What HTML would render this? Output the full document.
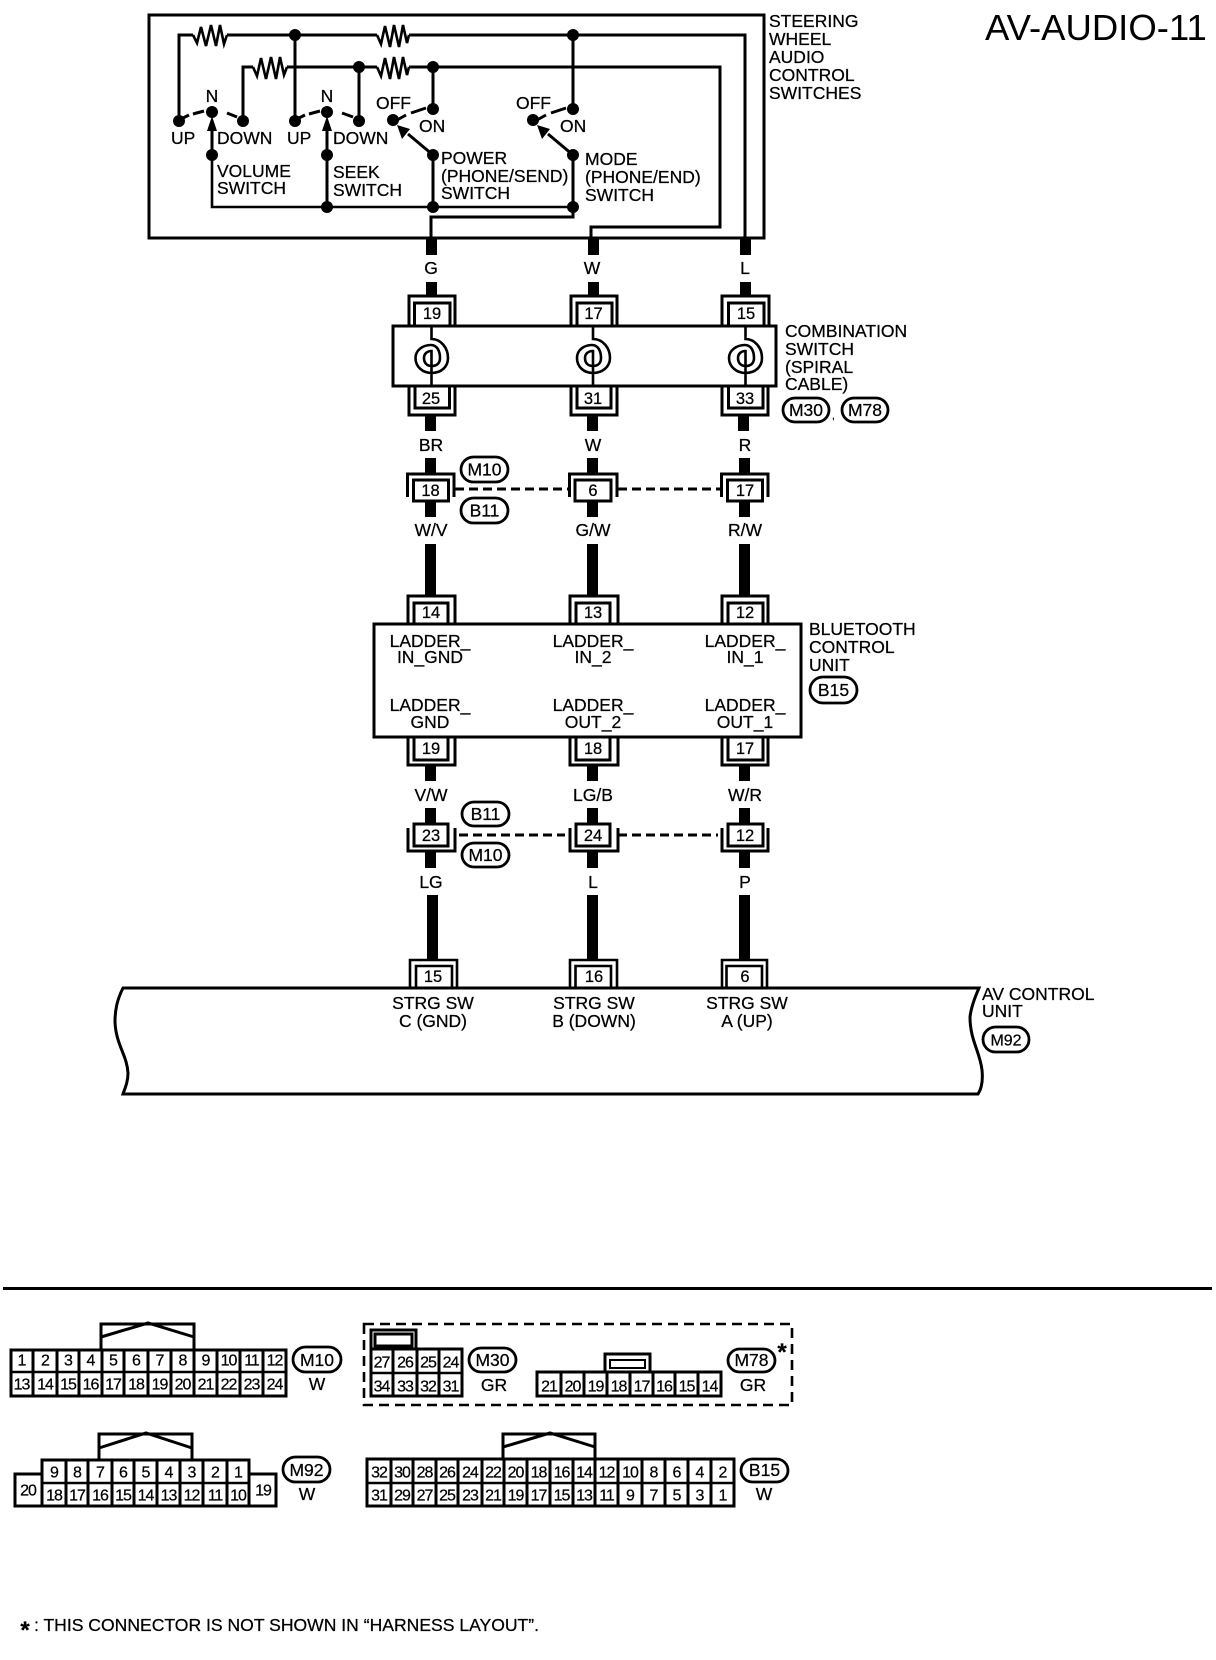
<!DOCTYPE html>
<html><head><meta charset="utf-8"><title>AV-AUDIO-11</title>
<style>
html,body{margin:0;padding:0;background:#fff}
svg{display:block}
text{font-family:"Liberation Sans",sans-serif;font-size:17.5px;fill:#000;stroke:#000;stroke-width:.25}
.m{text-anchor:middle}
.c text{font-size:16px;text-anchor:middle;letter-spacing:-1px}
.p{font-size:16.5px;text-anchor:middle}
.w{fill:none;stroke:#000;stroke-width:3}
.t{fill:none;stroke:#000;stroke-width:2}
.s{fill:none;stroke:#000;stroke-width:2.6}
.o{fill:none;stroke:#000;stroke-width:3}
.pill{fill:#fff;stroke:#000;stroke-width:2.8}
</style></head><body>
<svg xmlns="http://www.w3.org/2000/svg" width="1216" height="1660" viewBox="0 0 1216 1660">
<rect width="1216" height="1660" fill="#fff"/>

<!-- switches box -->
<rect x="149" y="15" width="615" height="223" class="w"/>
<text x="985" y="40" style="font-size:36.5px;stroke-width:0">AV-AUDIO-11</text>
<text x="769" y="27">STEERING</text><text x="769" y="45">WHEEL</text><text x="769" y="63">AUDIO</text><text x="769" y="81">CONTROL</text><text x="769" y="99">SWITCHES</text>

<path class="w" d="M179 121V35H193M227 35H377M409 35H745V238M295 35V121M573 35V109"/>
<path class="w" d="M243 121V67H253M287 67H377M409 67H720V227H591V238M359 67V121M433 67V109"/>
<path class="s" d="M193 35L197 43L201 27L206 46L211 25L216 46L220 25L224 44L227 35M377 35L381 44L385 26L390 47L394 25L399 47L403 25L407 43L409 35M253 67L257 76L261 58L266 79L271 57L276 79L280 57L284 75L287 67M377 67L381 76L385 58L390 79L394 57L399 79L403 57L407 75L409 67"/>

<!-- switch dashes -->
<path class="w" d="M183 118L189 115M193 114L204 111M227 113L237 117M299 118L305 115M309 114L320 111M342 113L353 117M397 120L406 115M411 113L426 108M537 120L546 115M551 113L566 108"/>
<!-- lower wiring -->
<path class="w" d="M212 155V128M327 207V128M433 207V155L408 134M573 207V155L548 134M431 238V217H573V207"/>
<path class="s" d="M212 155V207H573"/>
<path d="M212 116L207 131H217ZM327 116L322 131H332ZM397 125L410 129L402 139ZM537 125L550 129L542 139Z"/>
<g>
<circle cx="295" cy="35" r="6"/><circle cx="573" cy="35" r="6"/><circle cx="359" cy="67" r="6"/><circle cx="433" cy="67" r="6"/>
<circle cx="179" cy="121" r="6"/><circle cx="212" cy="112" r="6"/><circle cx="243" cy="121" r="6"/>
<circle cx="295" cy="121" r="6"/><circle cx="327" cy="112" r="6"/><circle cx="359" cy="121" r="6"/>
<circle cx="393" cy="120" r="6"/><circle cx="433" cy="109" r="6"/><circle cx="533" cy="120" r="6"/><circle cx="573" cy="109" r="6"/>
<circle cx="212" cy="155" r="6"/><circle cx="327" cy="155" r="6"/><circle cx="433" cy="155" r="6"/><circle cx="573" cy="155" r="6"/>
<circle cx="327" cy="207" r="6"/><circle cx="433" cy="207" r="6"/><circle cx="573" cy="207" r="6"/>
</g>
<text x="212" y="102" class="m">N</text><text x="327" y="102" class="m">N</text>
<text x="376" y="109">OFF</text><text x="419" y="132">ON</text><text x="516" y="109">OFF</text><text x="560" y="132">ON</text>
<text x="171" y="144">UP</text><text x="217" y="144">DOWN</text><text x="287" y="144">UP</text><text x="333" y="144">DOWN</text>
<text x="217" y="177">VOLUME</text><text x="217" y="194">SWITCH</text>
<text x="333" y="178">SEEK</text><text x="333" y="196">SWITCH</text>
<text x="441" y="164">POWER</text><text x="441" y="182">(PHONE/SEND)</text><text x="441" y="199">SWITCH</text>
<text x="585" y="165">MODE</text><text x="585" y="183">(PHONE/END)</text><text x="585" y="201">SWITCH</text>

<!-- stubs -->
<g>
<rect x="426" y="238" width="11" height="17"/><rect x="588" y="238" width="11" height="17"/><rect x="740" y="238" width="11" height="17"/>
<rect x="426" y="282" width="11" height="13"/><rect x="588" y="282" width="11" height="13"/><rect x="740" y="282" width="11" height="13"/>
<rect x="425" y="415" width="11" height="16"/><rect x="587" y="415" width="11" height="16"/><rect x="738" y="415" width="11" height="16"/>
<rect x="425" y="458" width="11" height="15"/><rect x="587" y="458" width="11" height="15"/><rect x="739" y="458" width="11" height="15"/>
<rect x="425" y="502" width="11" height="15"/><rect x="587" y="502" width="11" height="15"/><rect x="739" y="502" width="11" height="15"/>
<rect x="425" y="544" width="11" height="51"/><rect x="587" y="544" width="11" height="51"/><rect x="739" y="544" width="11" height="51"/>
<rect x="425" y="765" width="11" height="16"/><rect x="587" y="765" width="11" height="16"/><rect x="739" y="765" width="11" height="16"/>
<rect x="425" y="808" width="11" height="15"/><rect x="587" y="808" width="11" height="15"/><rect x="739" y="808" width="11" height="15"/>
<rect x="425" y="852" width="11" height="16"/><rect x="587" y="852" width="11" height="16"/><rect x="739" y="852" width="11" height="16"/>
<rect x="427" y="895" width="11" height="64"/><rect x="587" y="895" width="11" height="64"/><rect x="739" y="895" width="11" height="64"/>
</g>
<text x="431" y="274" class="m">G</text><text x="592" y="274" class="m">W</text><text x="745" y="274" class="m">L</text>
<text x="431" y="451" class="m">BR</text><text x="593" y="451" class="m">W</text><text x="745" y="451" class="m">R</text>
<text x="431" y="536" class="m">W/V</text><text x="593" y="536" class="m">G/W</text><text x="745" y="536" class="m">R/W</text>
<text x="431" y="801" class="m">V/W</text><text x="593" y="801" class="m">LG/B</text><text x="745" y="801" class="m">W/R</text>
<text x="431" y="888" class="m">LG</text><text x="593" y="888" class="m">L</text><text x="745" y="888" class="m">P</text>

<!-- connectors: combination switch upper -->
<path class="o" d="M409 325V296H455V325M571 325V296H617V325M722 325V296H769V325"/>
<path class="o" d="M414.5 326V303H450V326M577 326V303H612V326M728.5 326V303H764V326"/>
<text x="432" y="319" class="p">19</text><text x="593.5" y="319" class="p">17</text><text x="746" y="319" class="p">15</text>

<!-- combination switch -->
<rect x="393" y="326" width="383" height="60" class="w" fill="#fff"/>
<path class="s" d="M431.5 326V339C441 339 448 348 448 358C448 367 441 373 431.5 373C423 373 415.5 367 415.5 358C415.5 350 423 345 431 345C437 345 440 351 440 358C440 363 437 366 431.5 366C427 366 424 363 424 358C424 354 427 351 431.5 351V386"/>
<path class="s" d="M593 326V339C603 339 610 348 610 358C610 367 602 373 593 373C584 373 577 367 577 358C577 350 584 345 592 345C598 345 601 351 601 358C601 363 598 366 593 366C588 366 585 363 585 358C585 354 588 351 593 351V386"/>
<path class="s" d="M745.5 326V339C755 339 762 348 762 358C762 367 755 373 745.5 373C737 373 729 367 729 358C729 350 737 345 745 345C751 345 754 351 754 358C754 363 751 366 745.5 366C741 366 738 363 738 358C738 354 741 351 745.5 351V386"/>
<text x="785" y="337">COMBINATION</text><text x="785" y="355">SWITCH</text><text x="785" y="373">(SPIRAL</text><text x="785" y="390">CABLE)</text>
<rect x="783" y="398" width="46" height="24" rx="12" class="pill"/><text x="806" y="416" class="m">M30</text>
<text x="832" y="419" style="font-size:10px">,</text>
<rect x="842" y="398" width="46" height="24" rx="12" class="pill"/><text x="865" y="416" class="m">M78</text>

<!-- lower of combination -->
<path class="o" d="M409 387V415H455V387M571 387V415H617V387M722 387V415H768V387"/>
<path class="o" d="M415 387V408H449.5V387M577 387V408H611V387M728.5 387V408H763V387"/>
<text x="431" y="404" class="p">25</text><text x="593" y="404" class="p">31</text><text x="745" y="404" class="p">33</text>

<!-- row M10/B11 -->
<path class="o" d="M407.5 497V474H454V497M569.5 497V474H617V497M721.5 497V474H768V497"/>
<rect x="413.5" y="480" width="35" height="21" class="o" fill="#fff"/><rect x="575" y="480" width="36" height="21" class="o" fill="#fff"/><rect x="727.5" y="480" width="35" height="21" class="o" fill="#fff"/>
<text x="430.5" y="496" class="p">18</text><text x="593" y="496" class="p">6</text><text x="745" y="496" class="p">17</text>
<path class="w" stroke-dasharray="9 5" d="M455 489H569M618 489H720"/>
<rect x="461" y="457" width="47" height="25" rx="12.5" class="pill"/><text x="484.5" y="475.5" class="m">M10</text>
<rect x="461" y="498" width="47" height="25" rx="12.5" class="pill"/><text x="484.5" y="516.5" class="m">B11</text>

<!-- bluetooth upper -->
<path class="o" d="M408 623V596H455V623M570 623V596H618V623M722 623V596H768V623"/>
<path class="o" d="M414 623V603H448V623M576 623V603H610V623M728 623V603H763V623"/>
<text x="431" y="618" class="p">14</text><text x="593" y="618" class="p">13</text><text x="745" y="618" class="p">12</text>
<rect x="374" y="624" width="427" height="113" class="w" fill="#fff"/>
<text x="430" y="647" class="m">LADDER_</text><text x="430" y="663" class="m">IN_GND</text>
<text x="593" y="647" class="m">LADDER_</text><text x="593" y="663" class="m">IN_2</text>
<text x="745" y="647" class="m">LADDER_</text><text x="745" y="663" class="m">IN_1</text>
<text x="430" y="711" class="m">LADDER_</text><text x="430" y="728" class="m">GND</text>
<text x="593" y="711" class="m">LADDER_</text><text x="593" y="728" class="m">OUT_2</text>
<text x="745" y="711" class="m">LADDER_</text><text x="745" y="728" class="m">OUT_1</text>
<text x="809" y="635">BLUETOOTH</text><text x="809" y="653">CONTROL</text><text x="809" y="671">UNIT</text>
<rect x="810" y="677" width="47" height="26" rx="13" class="pill"/><text x="833.5" y="696" class="m">B15</text>

<!-- bluetooth lower -->
<path class="o" d="M408 738V765H455V738M570 738V765H618V738M722 738V765H768V738"/>
<path class="o" d="M414 738V760H448V738M576 738V760H610V738M728 738V760H763V738"/>
<text x="431" y="754" class="p">19</text><text x="593" y="754" class="p">18</text><text x="745" y="754" class="p">17</text>

<!-- row B11/M10 -->
<path class="o" d="M408 828V851H455V828M570 828V851H618V828M722 828V851H768V828"/>
<rect x="414" y="824" width="34" height="22" class="o" fill="#fff"/><rect x="576" y="824" width="34" height="22" class="o" fill="#fff"/><rect x="728" y="824" width="35" height="22" class="o" fill="#fff"/>
<text x="431" y="841" class="p">23</text><text x="593" y="841" class="p">24</text><text x="745" y="841" class="p">12</text>
<path class="w" stroke-dasharray="9 5" d="M459 835H565M618 835H718"/>
<rect x="462" y="802" width="47" height="24" rx="12" class="pill"/><text x="485.5" y="820" class="m">B11</text>
<rect x="462" y="843" width="47" height="24" rx="12" class="pill"/><text x="485.5" y="861" class="m">M10</text>

<!-- AV unit -->
<path class="s" d="M410 987V960H457V987M570 987V960H617V987M722 987V960H767V987"/>
<path class="s" d="M416 987V966H452V987M575.5 987V966H611V987M726.5 987V966H762V987"/>
<text x="433" y="982" class="p">15</text><text x="594" y="982" class="p">16</text><text x="745" y="982" class="p">6</text>
<path class="w" d="M979 988H123C117 1000 115 1010 115 1022C116 1045 127 1055 128 1073C128 1082 125 1088 123 1094H978C982 1088 983 1080 982 1070C980 1052 970 1040 970 1017C971 1008 975 997 979 988Z"/>
<text x="433" y="1009" class="m">STRG SW</text><text x="433" y="1027" class="m">C (GND)</text>
<text x="594" y="1009" class="m">STRG SW</text><text x="594" y="1027" class="m">B (DOWN)</text>
<text x="747" y="1009" class="m">STRG SW</text><text x="747" y="1027" class="m">A (UP)</text>
<text x="982" y="1000">AV CONTROL</text><text x="982" y="1017">UNIT</text>
<rect x="983" y="1027" width="46" height="25" rx="12.5" class="pill"/><text x="1006" y="1045.5" class="m" style="font-size:16px">M92</text>

<!-- divider -->
<rect x="3" y="1287" width="1209" height="3"/>

<!-- M10 connector -->
<path class="w" d="M101 1349V1324H194V1349M101 1337L148 1323L194 1337"/>
<rect x="11" y="1350" width="275" height="46" class="w"/>
<path class="w" d="M33 1350V1396M57 1350V1396M79 1350V1396M102 1350V1396M124 1350V1396M148 1350V1396M171 1350V1396M194 1350V1396M217 1350V1396M240 1350V1396M263 1350V1396"/>
<path class="s" d="M11 1372H286"/>
<g class="c">
<text x="21.5" y="1365.5">1</text><text x="45" y="1365.5">2</text><text x="68" y="1365.5">3</text><text x="90.5" y="1365.5">4</text><text x="113" y="1365.5">5</text><text x="136" y="1365.5">6</text><text x="159.5" y="1365.5">7</text><text x="182.5" y="1365.5">8</text><text x="205.5" y="1365.5">9</text><text x="228.5" y="1365.5">10</text><text x="251.5" y="1365.5">11</text><text x="274.5" y="1365.5">12</text>
<text x="21.5" y="1389.5">13</text><text x="45" y="1389.5">14</text><text x="68" y="1389.5">15</text><text x="90.5" y="1389.5">16</text><text x="113" y="1389.5">17</text><text x="136" y="1389.5">18</text><text x="159.5" y="1389.5">19</text><text x="182.5" y="1389.5">20</text><text x="205.5" y="1389.5">21</text><text x="228.5" y="1389.5">22</text><text x="251.5" y="1389.5">23</text><text x="274.5" y="1389.5">24</text>
</g>
<rect x="293" y="1347" width="48" height="25" rx="12.5" class="pill"/><text x="317" y="1366" class="m">M10</text>
<text x="317" y="1390" class="m">W</text>

<!-- M92 connector -->
<path class="w" d="M99 1460V1434H192V1460M99 1448L146 1433L192 1448"/>
<path class="w" d="M15 1506V1474H42V1460H249V1474H276V1506Z"/>
<path class="w" d="M42 1474V1506M66 1460V1506M88 1460V1506M112 1460V1506M134 1460V1506M157 1460V1506M180 1460V1506M203 1460V1506M227 1460V1506M249 1474V1506"/>
<path class="s" d="M42 1483H249"/>
<g class="c">
<text x="54" y="1477.5">9</text><text x="77" y="1477.5">8</text><text x="100" y="1477.5">7</text><text x="123" y="1477.5">6</text><text x="145.5" y="1477.5">5</text><text x="168.5" y="1477.5">4</text><text x="191.5" y="1477.5">3</text><text x="215" y="1477.5">2</text><text x="238" y="1477.5">1</text>
<text x="54" y="1500.5">18</text><text x="77" y="1500.5">17</text><text x="100" y="1500.5">16</text><text x="123" y="1500.5">15</text><text x="145.5" y="1500.5">14</text><text x="168.5" y="1500.5">13</text><text x="191.5" y="1500.5">12</text><text x="215" y="1500.5">11</text><text x="238" y="1500.5">10</text>
<text x="28" y="1495.5">20</text><text x="263" y="1495.5">19</text>
</g>
<rect x="283" y="1457" width="47" height="25" rx="12.5" class="pill"/><text x="306.5" y="1476" class="m">M92</text>
<text x="307" y="1500" class="m">W</text>

<!-- dashed M30/M78 -->
<rect x="364" y="1324" width="428" height="81" fill="none" stroke="#000" stroke-width="2.6" stroke-dasharray="10 6"/>
<path class="w" d="M371 1349V1330H416V1349"/>
<rect x="375" y="1334" width="37" height="12" class="w"/>
<rect x="371" y="1349" width="91" height="47" class="w"/>
<path class="w" d="M393 1349V1396M417 1349V1396M439 1349V1396"/>
<path class="s" d="M371 1373H462"/>
<g class="c">
<text x="381.5" y="1367.5">27</text><text x="405" y="1367.5">26</text><text x="428" y="1367.5">25</text><text x="450.5" y="1367.5">24</text>
<text x="381.5" y="1391.5">34</text><text x="405" y="1391.5">33</text><text x="428" y="1391.5">32</text><text x="450.5" y="1391.5">31</text>
</g>
<rect x="469" y="1348" width="47" height="24" rx="12" class="pill"/><text x="492.5" y="1366" class="m">M30</text>
<text x="494" y="1391" class="m">GR</text>

<path class="w" d="M605 1372V1354H650V1372"/>
<rect x="610" y="1360" width="35" height="8" class="t"/>
<rect x="537" y="1372" width="184" height="24" class="w"/>
<path class="w" d="M561 1372V1396M584 1372V1396M607 1372V1396M630 1372V1396M653 1372V1396M675 1372V1396M698 1372V1396"/>
<g class="c">
<text x="549" y="1391.5">21</text><text x="572.5" y="1391.5">20</text><text x="595.5" y="1391.5">19</text><text x="618.5" y="1391.5">18</text><text x="641.5" y="1391.5">17</text><text x="664" y="1391.5">16</text><text x="686.5" y="1391.5">15</text><text x="709.5" y="1391.5">14</text>
</g>
<rect x="728" y="1349" width="47" height="23" rx="11.5" class="pill"/><text x="751.5" y="1366" class="m">M78</text>
<text x="753" y="1391" class="m">GR</text>
<text x="782" y="1360" class="m" style="font-size:24px;font-weight:bold">*</text>

<!-- B15 connector -->
<path class="w" d="M503 1458V1434H595V1458M503 1447L550 1433L595 1447"/>
<rect x="367" y="1459" width="367" height="47" class="w"/>
<path class="w" d="M391 1459V1506M413 1459V1506M436 1459V1506M458 1459V1506M482 1459V1506M504 1459V1506M527 1459V1506M550 1459V1506M573 1459V1506M595 1459V1506M618 1459V1506M642 1459V1506M665 1459V1506M688 1459V1506M711 1459V1506"/>
<path class="s" d="M367 1483H734"/>
<g class="c">
<text x="379" y="1477.5">32</text><text x="402" y="1477.5">30</text><text x="424.5" y="1477.5">28</text><text x="447" y="1477.5">26</text><text x="470" y="1477.5">24</text><text x="493" y="1477.5">22</text><text x="515.5" y="1477.5">20</text><text x="538.5" y="1477.5">18</text><text x="561.5" y="1477.5">16</text><text x="584" y="1477.5">14</text><text x="606.5" y="1477.5">12</text><text x="630" y="1477.5">10</text><text x="653.5" y="1477.5">8</text><text x="676.5" y="1477.5">6</text><text x="699.5" y="1477.5">4</text><text x="722.5" y="1477.5">2</text>
<text x="379" y="1500.5">31</text><text x="402" y="1500.5">29</text><text x="424.5" y="1500.5">27</text><text x="447" y="1500.5">25</text><text x="470" y="1500.5">23</text><text x="493" y="1500.5">21</text><text x="515.5" y="1500.5">19</text><text x="538.5" y="1500.5">17</text><text x="561.5" y="1500.5">15</text><text x="584" y="1500.5">13</text><text x="606.5" y="1500.5">11</text><text x="630" y="1500.5">9</text><text x="653.5" y="1500.5">7</text><text x="676.5" y="1500.5">5</text><text x="699.5" y="1500.5">3</text><text x="722.5" y="1500.5">1</text>
</g>
<rect x="741" y="1459" width="47" height="23" rx="11.5" class="pill"/><text x="764.5" y="1476" class="m">B15</text>
<text x="764" y="1500" class="m">W</text>

<!-- footnote -->
<text x="25" y="1638" class="m" style="font-size:24px;font-weight:bold">*</text>
<text x="34" y="1631" textLength="505" lengthAdjust="spacingAndGlyphs">: THIS CONNECTOR IS NOT SHOWN IN “HARNESS LAYOUT”.</text>
</svg>
</body></html>
